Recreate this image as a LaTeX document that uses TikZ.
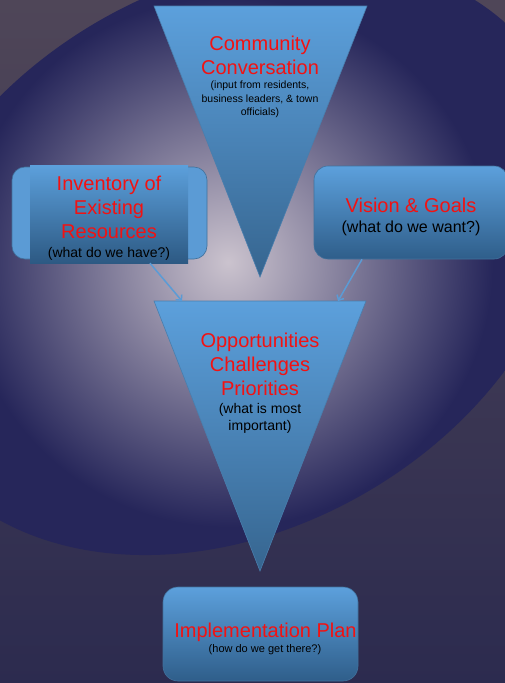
\documentclass[tikz,border=0pt]{standalone}
\usepackage{fontspec}
\setmainfont{Liberation Sans}
\usetikzlibrary{positioning,calc,arrows.meta}
\definecolor{bgtop}{HTML}{4F4658}
\definecolor{bgbot}{HTML}{2C2B4F}
\definecolor{navy}{HTML}{26265A}
\definecolor{glow}{HTML}{CBC3CE}
\definecolor{bluetop}{HTML}{5CA0DC}
\definecolor{bluebot}{HTML}{2F5E8A}
\definecolor{tribot}{HTML}{36658F}
\definecolor{blueline}{HTML}{41719C}
\definecolor{flatblue}{HTML}{5B9BD5}
\definecolor{titlered}{HTML}{F21212}
\begin{document}
\begin{tikzpicture}[x=1pt, y=-1pt, >={Straight Barb[length=4pt,width=8pt]},
  funnel/.style={top color=bluetop, bottom color=tribot, draw=blueline!70!flatblue, line width=.6pt},
  plain box/.style={rectangle, rounded corners=14pt, draw=blueline, line width=.6pt, inner sep=0pt},
  box node/.style={plain box, top color=bluetop, bottom color=bluebot},
  flow/.style={->, draw=flatblue, line width=1.5pt},
  title node/.style={font=\fontsize{20}{24}\selectfont, text=titlered, align=center, inner sep=0pt},
  note node/.style={text=black, align=center, inner sep=0pt}]
\useasboundingbox (0,0) rectangle (505,683);
\clip (0,0) rectangle (505,683);
% backdrop
\shade[top color=bgtop, bottom color=bgbot] (0,0) rectangle (505,683);
\begin{scope}
\clip[shift={(232,257)}, rotate=30.7] (0,0) ellipse [x radius=364, y radius=271];
\fill[navy] (0,0) rectangle (505,683);
\shade[inner color=glow, outer color=navy] (228,262) circle [radius=265];
\end{scope}
% funnels
\coordinate (ccL) at (154,6);
\coordinate (ccR) at (367,6);
\coordinate (ccT) at (260,277);
\shade[funnel] (ccL) -- (ccR) -- (ccT) -- cycle;
\coordinate (oppL) at (154,301);
\coordinate (oppR) at (366,301);
\coordinate (oppT) at (260,571);
\shade[funnel] (oppL) -- (oppR) -- (oppT) -- cycle;
% boxes
\node[plain box, rounded corners=13pt, fill=flatblue, minimum width=195pt, minimum height=92pt] (invbg) at (109.5,213) {};
\node[rectangle, top color=bluetop, bottom color=bluebot!95!black, inner sep=0pt, minimum width=158pt, minimum height=98pt] (inv) at (109,214) {};
\node[box node, minimum width=194pt, minimum height=93pt] (vis) at (411,212.5) {};
\node[box node, rounded corners=15pt, minimum width=195pt, minimum height=94pt] (impl) at (260.5,634) {};
% arrows
\draw[flow] ([xshift=41pt]inv.south) -- ($(oppL)!0.132!(oppR)$);
\draw[flow] ([xshift=-49pt]vis.south) -- ($(oppL)!0.868!(oppR)$);
% texts
\begin{scope}
\node[title node] (cctitle) at (260,55.5) {Community\\Conversation};
\node[note node, font=\fontsize{10.5}{13.5}\selectfont] (ccnote) at (260,99.3) {(input from residents,\\business leaders, \& town\\officials)};
\node[title node] (invtitle) at (109,207) {Inventory of\\Existing\\Resources};
\node[note node, font=\fontsize{14}{17}\selectfont] (invnote) at (109,253.4) {(what do we have?)};
\node[title node] (vistitle) at (411,205.1) {Vision \& Goals};
\node[note node, font=\fontsize{16}{19}\selectfont] (visnote) at (411,228.5) {(what do we want?)};
\node[title node] (opptitle) at (260,364.2) {Opportunities\\Challenges\\Priorities};
\node[note node, font=\fontsize{14}{17}\selectfont] (oppnote) at (260,418) {(what is most\\important)};
\node[title node] (impltitle) at (265.5,632) {Implementation Plan};
\node[note node, font=\fontsize{11}{13}\selectfont] (implnote) at (265,650) {(how do we get there?)};
\end{scope}
\end{tikzpicture}
\end{document}
